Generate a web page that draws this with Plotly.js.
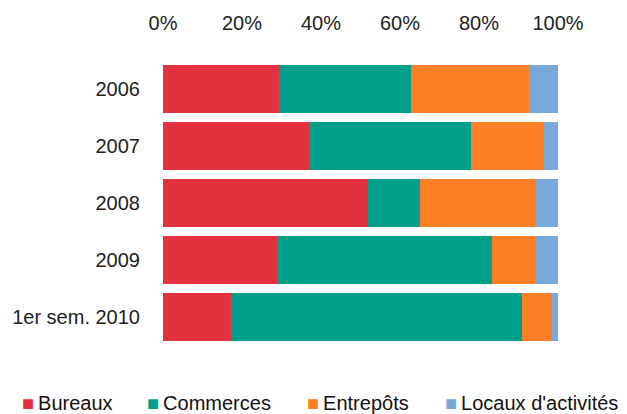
<!DOCTYPE html>
<html>
<head>
<meta charset="utf-8">
<script src="https://cdn.plot.ly/plotly-3.0.1.min.js"></script>
<style>html,body{margin:0;padding:0;background:#fff;}#chart{width:627px;height:414px;}</style>
</head>
<body>
<div id="chart"></div>
<script>
const categories = ["2006", "2007", "2008", "2009", "1er sem. 2010"];
const seriesNames = ["Bureaux", "Commerces", "Entrepôts", "Locaux d'activités"];
const bureaux = [29.4, 37.0, 51.8, 28.9, 17.3];
const commerces = [33.3, 41.0, 13.2, 54.5, 73.5];
const entrepots = [30.0, 18.3, 29.2, 11.0, 7.5];
const locaux = [7.3, 3.7, 5.8, 5.6, 1.7];
const xTicks = [0, 20, 40, 60, 80, 100];
const colors = ["#e4313f", "#00a08b", "#ff7f27", "#76a9d9"];

const W = 627, H = 414;
const M = {l: 163, r: 69, t: 60, b: 68};
const plotW = W - M.l - M.r, plotH = H - M.t - M.b;

const values = [bureaux, commerces, entrepots, locaux];
const traces = values.map((v, i) => ({
  type: "bar",
  orientation: "h",
  name: seriesNames[i],
  x: v,
  y: categories,
  marker: {color: colors[i], line: {width: 0}},
  hoverinfo: "x+name",
  showlegend: false
}));

const font = {family: "'Liberation Sans', Arial, sans-serif", size: 20, color: "#222"};

// legend drawn as text entries laid out left to right below the plot
const legendLeft = [20, 145, 305, 443];   // pixel left edge of each legend entry
const legendY = 403;                        // pixel centre line of legend row
const annotations = seriesNames.map((name, i) => ({
  xref: "paper", yref: "paper",
  x: (legendLeft[i] - M.l) / plotW,
  y: (H - M.b - legendY) / plotH,
  xanchor: "left", yanchor: "middle",
  showarrow: false,
  align: "left",
  text: "<span style='color:" + colors[i] + "'>■</span>\u2009" + name,
  font: {family: font.family, size: 20, color: "#111"}
}));

const layout = {
  width: W,
  height: H,
  barmode: "stack",
  bargap: 0.16,
  margin: {l: M.l, r: M.r, t: M.t, b: M.b, pad: 0},
  paper_bgcolor: "#fff",
  plot_bgcolor: "#fff",
  font: font,
  showlegend: false,
  xaxis: {
    side: "top",
    range: [0, 100],
    tickvals: xTicks,
    ticktext: xTicks.map(t => t + "%"),
    showgrid: false,
    zeroline: false,
    showline: false,
    ticks: "outside",
    ticklen: 21,
    tickcolor: "rgba(0,0,0,0)",
    tickfont: font,
    fixedrange: true
  },
  yaxis: {
    type: "category",
    autorange: "reversed",
    showgrid: false,
    zeroline: false,
    showline: false,
    ticks: "outside",
    ticklen: 18,
    tickcolor: "rgba(0,0,0,0)",
    tickfont: font,
    fixedrange: true
  },
  annotations: annotations
};

Plotly.newPlot("chart", traces, layout, {displayModeBar: false, staticPlot: true});
</script>
</body>
</html>
